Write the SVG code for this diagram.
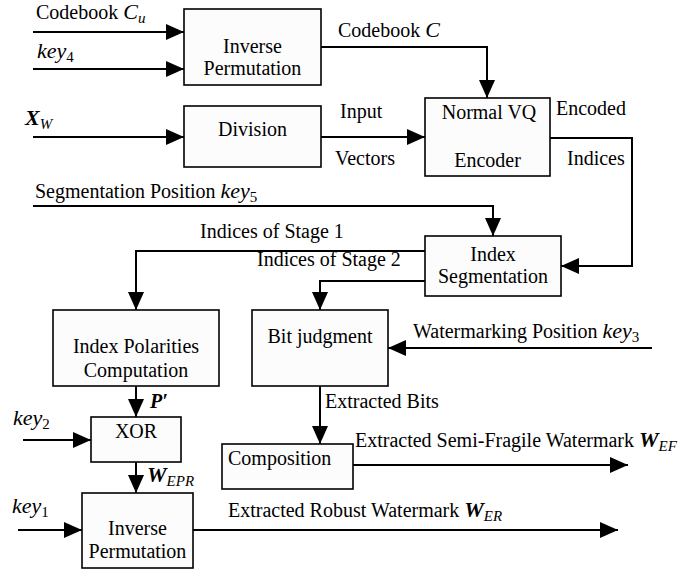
<svg xmlns="http://www.w3.org/2000/svg" width="684" height="569" viewBox="0 0 684 569">
  <style>
    text { font-family: "Liberation Serif", Tinos, "Nimbus Roman", "DejaVu Serif", serif; font-size: 20px; fill: #000; }
    .c { text-anchor: middle; }
    .it { font-style: italic; }
    .bi { font-style: italic; font-weight: bold; }
    .sub { font-size: 15px; font-style: italic; font-weight: normal; }
    .subn { font-size: 15px; font-style: normal; font-weight: normal; }
    .box { fill: #fcfcfc; stroke: #000; stroke-width: 1.6; }
    .wire { fill: none; stroke: #000; stroke-width: 2; }
  </style>
  <defs>
    <marker id="arrow" markerUnits="userSpaceOnUse" markerWidth="18" markerHeight="16" refX="18" refY="8" orient="auto">
      <path d="M0,0 L18,8 L0,16 z" fill="#000"/>
    </marker>
  </defs>
  <rect width="684" height="569" fill="#fff"/>

  <!-- connectors -->
  <g id="connectors" class="wire" marker-end="url(#arrow)">
    <path d="M33,32 H184"/>
    <path d="M33,69 H184"/>
    <path d="M321,47 H487 V98"/>
    <path d="M33,137 H184"/>
    <path d="M321,137 H425"/>
    <path d="M550,138 H632 V266 H561"/>
    <path d="M33,206 H493 V236"/>
    <path d="M425,251 H136 V310"/>
    <path d="M425,281 H320 V310"/>
    <path d="M652,348 H388"/>
    <path d="M320,386 V444"/>
    <path d="M136,386 V417"/>
    <path d="M23,440 H91"/>
    <path d="M136,462 V493"/>
    <path d="M18,530 H82"/>
    <path d="M193,530 H618"/>
    <path d="M353,465 H628"/>
  </g>

  <!-- edge labels -->
  <g id="labels">
    <text x="36" y="19">Codebook <tspan class="it" font-size="22">C</tspan><tspan class="sub" dy="4">u</tspan></text>
    <text x="37" y="58"><tspan class="it" font-size="22">key</tspan><tspan class="subn" dy="4">4</tspan></text>
    <text x="25" y="125"><tspan class="bi" font-size="22">X</tspan><tspan class="sub" dy="4">W</tspan></text>
    <text x="338" y="37">Codebook <tspan class="it" font-size="22">C</tspan></text>
    <text x="340" y="118">Input</text>
    <text x="335" y="165">Vectors</text>
    <text x="556" y="115">Encoded</text>
    <text x="567" y="165">Indices</text>
    <text x="35" y="198">Segmentation Position <tspan class="it" font-size="22">key</tspan><tspan class="subn" dy="4">5</tspan></text>
    <text x="200" y="238">Indices of Stage 1</text>
    <text x="257" y="266">Indices of Stage 2</text>
    <text x="413" y="338">Watermarking Position <tspan class="it" font-size="22">key</tspan><tspan class="subn" dy="4">3</tspan></text>
    <text x="325" y="408">Extracted Bits</text>
    <text x="150" y="408" class="bi" font-size="22">P′</text>
    <text x="13" y="425"><tspan class="it" font-size="22">key</tspan><tspan class="subn" dy="4">2</tspan></text>
    <text x="147" y="482"><tspan class="bi" font-size="22">W</tspan><tspan class="sub" dy="4">EPR</tspan></text>
    <text x="355" y="447">Extracted Semi-Fragile Watermark <tspan class="bi" font-size="22">W</tspan><tspan class="sub" dy="4">EF</tspan></text>
    <text x="12" y="513"><tspan class="it" font-size="22">key</tspan><tspan class="subn" dy="4">1</tspan></text>
    <text x="228" y="517">Extracted Robust Watermark <tspan class="bi" font-size="22">W</tspan><tspan class="sub" dy="4">ER</tspan></text>
  </g>

  <!-- nodes -->
  <g id="inverse-permutation-codebook">
    <rect class="box" x="184" y="9" width="137" height="76"/>
    <text class="c" x="252.5" y="53">Inverse</text>
    <text class="c" x="252.5" y="75">Permutation</text>
  </g>
  <g id="division">
    <rect class="box" x="184" y="106" width="137" height="61"/>
    <text class="c" x="252.5" y="136">Division</text>
  </g>
  <g id="normal-vq-encoder">
    <rect class="box" x="425" y="98" width="125" height="78"/>
    <text class="c" x="489" y="119">Normal VQ</text>
    <text class="c" x="487.5" y="167">Encoder</text>
  </g>
  <g id="index-segmentation">
    <rect class="box" x="425" y="236" width="136" height="60"/>
    <text class="c" x="493" y="261">Index</text>
    <text class="c" x="493" y="283">Segmentation</text>
  </g>
  <g id="index-polarities">
    <rect class="box" x="53" y="310" width="166" height="76"/>
    <text class="c" x="136" y="353">Index Polarities</text>
    <text class="c" x="136" y="377">Computation</text>
  </g>
  <g id="bit-judgment">
    <rect class="box" x="252" y="310" width="136" height="76"/>
    <text class="c" x="320" y="343">Bit judgment</text>
  </g>
  <g id="xor">
    <rect class="box" x="91" y="417" width="90" height="45"/>
    <text class="c" x="136" y="438">XOR</text>
  </g>
  <g id="composition">
    <rect class="box" x="222" y="444" width="131" height="45"/>
    <text x="228" y="465">Composition</text>
  </g>
  <g id="inverse-permutation-watermark">
    <rect class="box" x="82" y="493" width="111" height="75"/>
    <text class="c" x="137.5" y="535">Inverse</text>
    <text class="c" x="137.5" y="558">Permutation</text>
  </g>
</svg>
